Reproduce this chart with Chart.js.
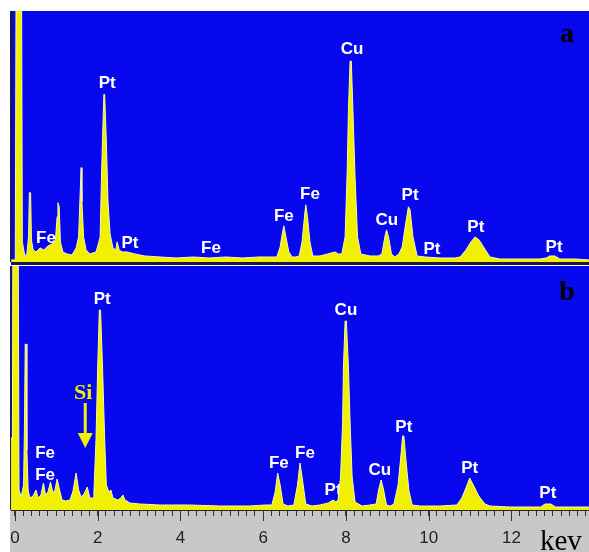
<!DOCTYPE html>
<html>
<head>
<meta charset="utf-8">
<title>EDS spectra a / b</title>
<script src="https://cdn.jsdelivr.net/npm/chart.js@4.4.1/dist/chart.umd.min.js"></script>
<style>
  body { margin: 0; background: #fff; }
  #wrap { position: relative; width: 589px; height: 552px; overflow: hidden; }
  canvas { position: absolute; left: 0; }
  #chartA { top: 0; }
  #chartB { top: 266px; }
</style>
</head>
<body>
<div id="wrap">
  <canvas id="chartA" width="589" height="266"></canvas>
  <canvas id="chartB" width="589" height="286"></canvas>
</div>
<script>
// spectrum a : energy (keV) and counts (arb. units)
const energyA = [-0.09, 0.01, 0.03, 0.16, 0.18, 0.24, 0.29, 0.33, 0.35, 0.38, 0.40, 0.44, 0.51, 0.61, 0.70, 0.80, 0.90,
  0.98, 1.02, 1.04, 1.07, 1.10, 1.16, 1.26, 1.38, 1.48, 1.54, 1.57, 1.60, 1.62, 1.66, 1.72, 1.81, 1.96, 2.03,
  2.06, 2.09, 2.12, 2.15, 2.17, 2.21, 2.25, 2.30, 2.37, 2.44, 2.47, 2.52, 2.59, 2.71, 2.90, 3.14, 3.51, 3.90,
  4.30, 4.70, 5.10, 5.50, 5.90, 6.20, 6.33, 6.41, 6.47, 6.50, 6.55, 6.62, 6.70, 6.79, 6.87, 6.94, 7.01, 7.03,
  7.07, 7.13, 7.20, 7.37, 7.56, 7.74, 7.81, 7.90, 7.98, 8.03, 8.06, 8.10, 8.13, 8.17, 8.22, 8.28, 8.36, 8.58,
  8.78, 8.87, 8.94, 8.98, 9.03, 9.10, 9.18, 9.28, 9.36, 9.45, 9.51, 9.55, 9.62, 9.72, 9.91, 10.27, 10.63,
  10.76, 10.90, 11.02, 11.12, 11.22, 11.34, 11.48, 11.72, 12.21, 12.69, 12.84, 12.93, 13.05, 13.17, 13.54, 13.9];
const countsA = [2, 2, 300, 300, 20, 6, 8, 25, 69, 69, 22, 12, 10, 14, 12, 16, 18,
  22, 45, 59, 55, 20, 10, 8, 7, 14, 25, 60, 94, 60, 25, 12, 8, 10, 20,
  25, 80, 125, 167, 167, 120, 60, 28, 14, 12, 20, 12, 10, 10, 8, 6, 5, 4,
  5, 4, 5, 4, 5, 5, 5, 15, 30, 36, 25, 10, 5, 5, 6, 20, 50, 57,
  45, 20, 6, 6, 8, 10, 8, 8, 25, 90, 150, 200, 200, 150, 85, 25, 8, 6,
  6, 8, 25, 32, 25, 8, 5, 8, 15, 40, 55, 52, 25, 6, 5, 4, 4,
  5, 12, 20, 25, 22, 14, 5, 3, 3, 3, 4, 6, 6, 3, 3, 2];

// spectrum b
const energyB = [-0.12, -0.06, -0.04, 0.07, 0.10, 0.15, 0.21, 0.23, 0.25, 0.27, 0.29, 0.32, 0.36, 0.44, 0.51, 0.56,
  0.63, 0.69, 0.74, 0.80, 0.86, 0.92, 0.97, 1.02, 1.08, 1.14, 1.23, 1.33, 1.40, 1.48, 1.54, 1.60, 1.67, 1.75,
  1.81, 1.89, 1.91, 1.96, 2.00, 2.04, 2.07, 2.12, 2.17, 2.21, 2.27, 2.32, 2.37, 2.49, 2.56, 2.61, 2.66, 2.78,
  3.02, 3.51, 4.23, 4.96, 5.68, 6.04, 6.21, 6.29, 6.35, 6.41, 6.48, 6.60, 6.74, 6.83, 6.89, 6.95, 7.03, 7.18,
  7.37, 7.57, 7.69, 7.76, 7.81, 7.87, 7.92, 7.94, 7.98, 8.01, 8.06, 8.10, 8.15, 8.22, 8.39, 8.58, 8.73, 8.80,
  8.85, 8.90, 8.98, 9.07, 9.16, 9.26, 9.33, 9.37, 9.40, 9.45, 9.52, 9.60, 9.79, 10.27, 10.68, 10.80, 10.90,
  10.99, 11.09, 11.21, 11.36, 11.48, 11.96, 12.57, 12.71, 12.81, 12.95, 13.07, 13.54, 13.9];
const countsB = [72, 72, 400, 400, 20, 13, 25, 80, 166, 166, 60, 20, 12, 14, 20, 12,
  15, 27, 15, 18, 28, 17, 20, 31, 20, 10, 9, 10, 18, 37, 20, 13, 16, 23,
  12, 12, 18, 70, 140, 200, 200, 140, 70, 25, 18, 20, 12, 10, 12, 15, 10, 7,
  6, 5, 5, 4, 4, 5, 5, 18, 37, 25, 6, 4, 5, 25, 47, 30, 6, 4,
  5, 7, 10, 8, 10, 33, 88, 143, 189, 189, 143, 88, 33, 8, 4, 5, 6, 22,
  30, 22, 5, 4, 6, 25, 55, 74, 74, 50, 20, 5, 4, 4, 5, 12, 22,
  32, 24, 14, 6, 4, 3, 3, 3, 6, 6, 3, 3, 3];

// peak labels (text, energy, height)
const labelTextA = ['Pt', 'Fe', 'Pt', 'Fe', 'Fe', 'Fe', 'Cu', 'Cu', 'Pt', 'Pt', 'Pt', 'Pt'];
const labelEnergyA = [2.23, 0.75, 2.78, 4.74, 6.50, 7.13, 8.15, 8.99, 9.55, 10.08, 11.14, 13.03];
const labelHeightA = [178, 24, 19, 14, 46, 67, 212, 42, 66, 13, 35, 15];
const labelTextB = ['Pt', 'Fe', 'Fe', 'Fe', 'Fe', 'Pt', 'Cu', 'Cu', 'Pt', 'Pt', 'Pt'];
const labelEnergyB = [2.11, 0.73, 0.73, 6.38, 7.01, 7.69, 8.00, 8.82, 9.40, 10.99, 12.88];
const labelHeightB = [211, 57, 35, 47, 57, 20, 200, 40, 83, 42, 17];

// Si marker in panel b: label, arrow top, arrow head base, arrow tip
const siEnergy = 1.70;
const siLevels = [117, 107, 77, 62];

const majorTicks = [0, 2, 4, 6, 8, 10, 12];
const xMin = -0.094, xMax = 13.874;

const BLUE = '#0808ee';
const YELLOW = '#f0f000';

function toPoints(xs, ys) {
  return xs.map((e, i) => ({ x: e, y: ys[i] }));
}

function panelPlugin(letter, letterDrop, texts, energies, heights) {
  return {
    id: 'panel' + letter,
    beforeDraw(chart) {
      const { ctx, chartArea: a } = chart;
      ctx.save();
      ctx.fillStyle = BLUE;
      ctx.fillRect(a.left - 1, a.top, a.right - a.left + 1, a.bottom - a.top);
      ctx.fillStyle = '#14146a';
      ctx.fillRect(a.left - 1, a.top, 3, a.bottom - a.top);
      if (letter === 'b') {
        // grey axis strip
        ctx.fillStyle = '#c8c8c8';
        ctx.fillRect(a.left - 1, a.bottom, a.right - a.left + 1, chart.height - a.bottom);
      }
      ctx.restore();
    },
    beforeDatasetsDraw(chart) {
      const { ctx, scales } = chart;
      ctx.save();
      ctx.fillStyle = '#ffffff';
      ctx.font = 'bold 17px "Liberation Sans", Arial, sans-serif';
      ctx.textAlign = 'center';
      ctx.textBaseline = 'middle';
      texts.forEach((t, i) => {
        ctx.fillText(t, scales.x.getPixelForValue(energies[i]), scales.y.getPixelForValue(heights[i]));
      });
      ctx.restore();
    },
    afterDraw(chart) {
      const { ctx, chartArea: a, scales } = chart;
      ctx.save();
      ctx.fillStyle = '#000';
      ctx.font = 'bold 28px "Liberation Serif", "Times New Roman", serif';
      ctx.textAlign = 'center';
      ctx.textBaseline = 'alphabetic';
      ctx.fillText(letter, a.right - 22, a.top + letterDrop);

      if (letter === 'a') {
        ctx.fillStyle = '#18184a';
        ctx.fillRect(a.left, a.bottom, a.right - a.left, 3);
      } else {
        // longer major ticks
        ctx.strokeStyle = '#333';
        ctx.lineWidth = 1;
        majorTicks.forEach(v => {
          const x = Math.round(scales.x.getPixelForValue(v)) + 0.5;
          ctx.beginPath();
          ctx.moveTo(x, a.bottom);
          ctx.lineTo(x, a.bottom + 11);
          ctx.stroke();
        });
        // Si marker
        const sx = scales.x.getPixelForValue(siEnergy);
        const yl = siLevels.map(v => scales.y.getPixelForValue(v));
        ctx.fillStyle = YELLOW;
        ctx.strokeStyle = YELLOW;
        ctx.font = 'bold 22px "Liberation Serif", "Times New Roman", serif';
        ctx.textBaseline = 'middle';
        ctx.fillText('Si', sx - 2, yl[0]);
        ctx.lineWidth = 3;
        ctx.beginPath();
        ctx.moveTo(sx, yl[1]);
        ctx.lineTo(sx, yl[2]);
        ctx.stroke();
        ctx.beginPath();
        ctx.moveTo(sx - 7.5, yl[2]);
        ctx.lineTo(sx + 7.5, yl[2]);
        ctx.lineTo(sx, yl[3]);
        ctx.closePath();
        ctx.fill();
        // axis unit
        ctx.fillStyle = '#000';
        ctx.font = '29px "Liberation Serif", "Times New Roman", serif';
        ctx.textAlign = 'left';
        ctx.textBaseline = 'alphabetic';
        ctx.fillText('kev', 540, chart.height - 2);
      }
      ctx.restore();
    }
  };
}

function spectrumDataset(xs, ys) {
  return {
    data: toPoints(xs, ys),
    borderColor: '#f8f8a8',
    borderWidth: 1,
    backgroundColor: YELLOW,
    fill: 'origin',
    pointRadius: 0,
    tension: 0
  };
}

document.addEventListener('DOMContentLoaded', () => {
  new Chart(document.getElementById('chartA'), {
    type: 'line',
    data: { datasets: [spectrumDataset(energyA, countsA)] },
    options: {
      responsive: false,
      animation: false,
      devicePixelRatio: 1,
      layout: { padding: { left: 11, top: 11, right: 0, bottom: 4 } },
      plugins: { legend: { display: false }, tooltip: { enabled: false } },
      scales: {
        x: { type: 'linear', min: xMin, max: xMax, display: false },
        y: { min: 0, max: 250, display: false }
      }
    },
    plugins: [panelPlugin('a', 31, labelTextA, labelEnergyA, labelHeightA)]
  });

  new Chart(document.getElementById('chartB'), {
    type: 'line',
    data: { datasets: [spectrumDataset(energyB, countsB)] },
    options: {
      responsive: false,
      animation: false,
      devicePixelRatio: 1,
      layout: { padding: { left: 11, top: 0, right: 0, bottom: 0 } },
      plugins: { legend: { display: false }, tooltip: { enabled: false } },
      scales: {
        x: {
          type: 'linear',
          min: xMin,
          max: xMax,
          position: 'bottom',
          afterFit(scale) {
            scale.height = 42;
            scale.paddingLeft = 0;
            scale.paddingRight = 0;
          },
          border: { display: true, color: '#222', width: 1 },
          grid: { drawOnChartArea: false, drawTicks: true, tickLength: 6, color: '#333' },
          ticks: {
            stepSize: 0.2,
            includeBounds: false,
            autoSkip: false,
            maxRotation: 0,
            padding: 12,
            color: '#222',
            font: { family: '"Liberation Sans", Arial, sans-serif', size: 17 },
            callback: v => {
              const m = majorTicks.find(t => Math.abs(t - v) < 1e-6);
              return m === undefined ? '' : String(m);
            }
          }
        },
        y: { min: 0, max: 244, display: false }
      }
    },
    plugins: [panelPlugin('b', 34, labelTextB, labelEnergyB, labelHeightB)]
  });
});
</script>
</body>
</html>
